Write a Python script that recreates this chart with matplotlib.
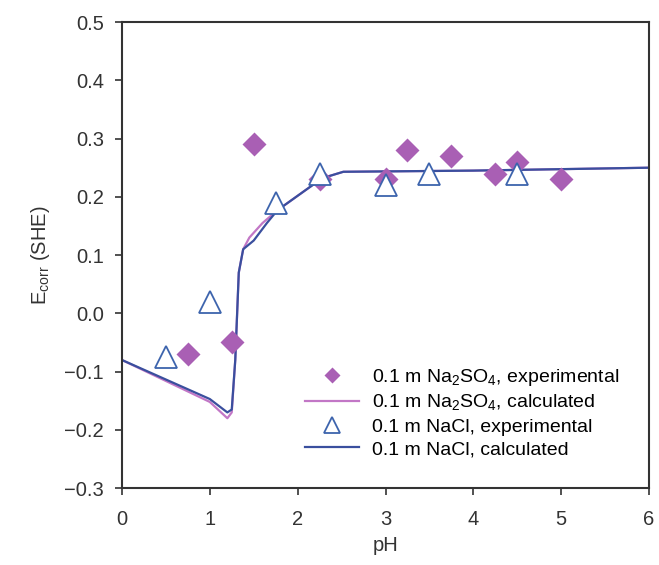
import matplotlib.pyplot as plt

# experimental points
ph_na2so4 = [0.75, 1.25, 1.5, 2.25, 3.0, 3.25, 3.75, 4.25, 4.5, 5.0]
e_na2so4 = [-0.07, -0.05, 0.29, 0.23, 0.23, 0.28, 0.27, 0.24, 0.26, 0.23]
ph_nacl = [0.5, 1.0, 1.75, 2.25, 3.0, 3.5, 4.5]
e_nacl = [-0.075, 0.02, 0.19, 0.24, 0.22, 0.24, 0.24]

# calculated curves
ph_calc_na2so4 = [0.0, 1.0, 1.2, 1.25, 1.29, 1.33, 1.38, 1.45, 1.6, 1.77, 2.28, 2.52, 4.0, 6.0]
e_calc_na2so4 = [-0.08, -0.152, -0.18, -0.17, -0.08, 0.07, 0.11, 0.13, 0.155, 0.177, 0.232, 0.243, 0.245, 0.25]
ph_calc_nacl = [0.0, 1.0, 1.2, 1.25, 1.29, 1.33, 1.38, 1.5, 1.65, 1.77, 2.28, 2.52, 4.0, 6.0]
e_calc_nacl = [-0.08, -0.147, -0.17, -0.165, -0.08, 0.07, 0.11, 0.125, 0.155, 0.177, 0.232, 0.243, 0.245, 0.25]

PURPLE = '#a95fb4'
PURPLE_LINE = '#c277c6'
BLUE = '#3d64ad'
BLUE_LINE = '#3a4f9e'
INK = '#333333'

plt.rcParams['font.family'] = ['Liberation Sans', 'DejaVu Sans']
plt.rcParams['mathtext.fontset'] = 'custom'
plt.rcParams['mathtext.rm'] = 'Liberation Sans'

fig = plt.figure(figsize=(6.59, 5.65), dpi=100)
ax = fig.add_axes([0.185, 0.136, 0.80, 0.825])

ax.plot(ph_calc_na2so4, e_calc_na2so4, color=PURPLE_LINE, lw=1.6, zorder=2)
ax.plot(ph_calc_nacl, e_calc_nacl, color=BLUE_LINE, lw=1.6, zorder=2)
ax.plot(ph_na2so4, e_na2so4, 'D', color=PURPLE, ms=12, mec='none', zorder=3)
ax.plot(ph_nacl, e_nacl, '^', color=BLUE, mfc='white', mew=1.3, ms=16, zorder=4)

h1 = ax.plot([], [], 'D', color=PURPLE, ms=8, mec='none')[0]
h2 = ax.plot([], [], color=PURPLE_LINE, lw=1.6)[0]
h3 = ax.plot([], [], '^', color=BLUE, mfc='white', mew=1.3, ms=11)[0]
h4 = ax.plot([], [], color=BLUE_LINE, lw=1.6)[0]
ax.legend([h1, h2, h3, h4],
          ['0.1 m Na$_\\mathrm{2}$SO$_\\mathrm{4}$, experimental',
           '0.1 m Na$_\\mathrm{2}$SO$_\\mathrm{4}$, calculated',
           '0.1 m NaCl, experimental', '0.1 m NaCl, calculated'],
          loc='upper left', bbox_to_anchor=(0.347, 0.26), frameon=False, fontsize=14,
          borderpad=0, borderaxespad=0,
          handlelength=2.8, handletextpad=0.65, labelspacing=0.25)

ax.set_xlim(0, 6)
ax.set_ylim(-0.3, 0.5)
ax.set_xticks(range(0, 7))
ax.set_yticks([-0.3, -0.2, -0.1, 0.0, 0.1, 0.2, 0.3, 0.4, 0.5])
ax.set_yticklabels(['\u22120.3', '\u22120.2', '\u22120.1', '0.0', '0.1', '0.2', '0.3', '0.4', '0.5'])
ax.tick_params(direction='out', length=5, width=1.2, labelsize=14.5, colors=INK)
ax.tick_params(axis='x', pad=11)
ax.tick_params(axis='y', pad=8)
for s in ax.spines.values():
    s.set_linewidth(1.5)
    s.set_color(INK)
ax.set_xlabel('pH', fontsize=14.5, labelpad=5, color=INK)
ax.set_ylabel('E$_\\mathrm{corr}$ (SHE)', fontsize=14.5, labelpad=9, color=INK)

fig.savefig('out.png', dpi=100)
